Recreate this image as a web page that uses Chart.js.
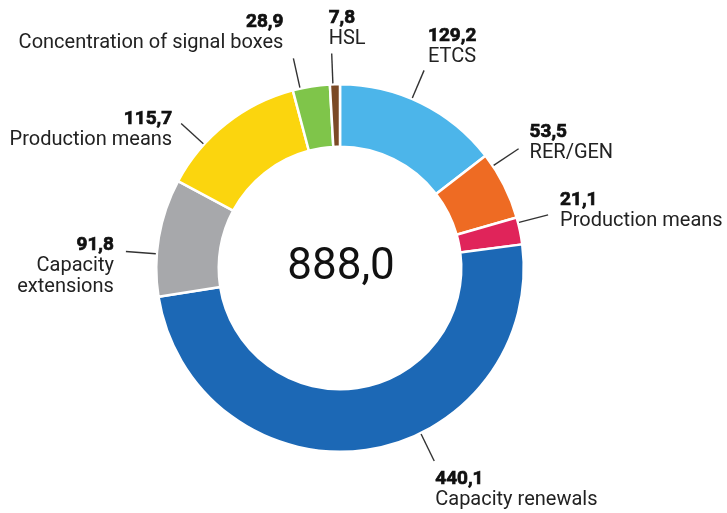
<!DOCTYPE html>
<html>
<head>
<meta charset="utf-8">
<script src="https://cdn.jsdelivr.net/npm/chart.js@4.4.0/dist/chart.umd.min.js"></script>
<style>
  html, body { margin: 0; padding: 0; background: #ffffff; }
  #wrap { width: 727px; height: 513px; }
</style>
</head>
<body>
<div id="wrap"><canvas id="c" width="727" height="513"></canvas></div>
<script>
// ---- data ----
const categories = ["ETCS", "RER/GEN", "Production means", "Capacity renewals",
                    "Capacity extensions", "Production means", "Concentration of signal boxes", "HSL"];
const values = [129.2, 53.5, 21.1, 440.1, 91.8, 115.7, 28.9, 7.8];
const valueLabels = ["129,2", "53,5", "21,1", "440,1", "91,8", "115,7", "28,9", "7,8"];
const nameLines = [["ETCS"], ["RER/GEN"], ["Production means"], ["Capacity renewals"],
                   ["Capacity", "extensions"], ["Production means"], ["Concentration of signal boxes"], ["HSL"]];
const totalLabel = "888,0";

// ---- styles ----
const colors = ["#4cb5ea", "#ee6b23", "#e0245a", "#1c68b5", "#a7a8ab", "#fbd50e", "#7fc54a", "#7b4a26"];
// leader line position within each arc (fraction) and text offsets from line end
const labelLayout = [
  { frac: 0.44, align: "left",  dx: 4,   dy: -29 },
  { frac: 0.18, align: "left",  dx: 11,  dy: -12 },
  { frac: 0.19, align: "left",  dx: 12,  dy: -10 },
  { frac: 0.40, align: "left",  dx: 1,   dy: 23 },
  { frac: 0.36, align: "right", dx: -12, dy: -1 },
  { frac: 0.30, align: "right", dx: -9,  dy: 1 },
  { frac: 0.20, align: "right", dx: -10, dy: -31 },
  { frac: 0.30, align: "left",  dx: -3,  dy: -30 }
];

const labelPlugin = {
  id: "leaderLabels",
  afterDraw(chart) {
    const ctx = chart.ctx;
    const meta = chart.getDatasetMeta(0);
    ctx.save();
    meta.data.forEach((arc, i) => {
      const p = arc.getProps(["x", "y", "startAngle", "endAngle", "outerRadius"], true);
      const L = labelLayout[i];
      const a = p.startAngle + L.frac * (p.endAngle - p.startAngle);
      const r0 = p.outerRadius + 1, r1 = p.outerRadius + 31;
      const x0 = p.x + r0 * Math.cos(a), y0 = p.y + r0 * Math.sin(a);
      const x1 = p.x + r1 * Math.cos(a), y1 = p.y + r1 * Math.sin(a);
      ctx.strokeStyle = "#333333";
      ctx.lineWidth = 1.4;
      ctx.beginPath(); ctx.moveTo(x0, y0); ctx.lineTo(x1, y1); ctx.stroke();
      const tx = x1 + L.dx;
      let ty = y1 + L.dy;
      ctx.textAlign = L.align;
      ctx.textBaseline = "alphabetic";
      ctx.fillStyle = "#111111";
      ctx.strokeStyle = "#111111";
      ctx.lineWidth = 0.7;
      ctx.font = "bold 19px Roboto";
      ctx.fillText(valueLabels[i], tx, ty);
      ctx.strokeText(valueLabels[i], tx, ty);
      ctx.fillStyle = "#222222";
      ctx.font = "20px Roboto";
      nameLines[i].forEach(line => { ty += 21; ctx.fillText(line, tx, ty); });
    });
    // centre total
    const a0 = meta.data[0];
    ctx.textAlign = "center";
    ctx.textBaseline = "alphabetic";
    ctx.fillStyle = "#111111";
    ctx.font = "44px Roboto";
    ctx.fillText(totalLabel, a0.x + 1, a0.y + 11);
    ctx.restore();
  }
};

new Chart(document.getElementById("c"), {
  type: "doughnut",
  data: {
    labels: categories,
    datasets: [{
      data: values,
      backgroundColor: colors,
      borderColor: "#ffffff",
      borderWidth: 2.5
    }]
  },
  options: {
    responsive: false,
    animation: false,
    devicePixelRatio: 1,
    cutout: "66%",
    layout: { padding: { top: 83, bottom: 60, left: 155, right: 202 } },
    plugins: { legend: { display: false }, tooltip: { enabled: false } }
  },
  plugins: [labelPlugin]
});
</script>
</body>
</html>
